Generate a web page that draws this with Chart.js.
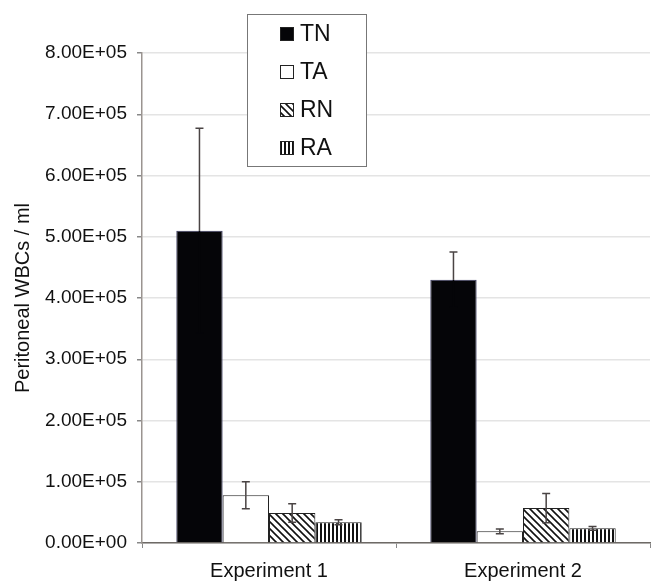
<!DOCTYPE html>
<html>
<head>
<meta charset="utf-8">
<script src="https://cdn.jsdelivr.net/npm/chart.js@4.4.0/dist/chart.umd.min.js"></script>
<style>
  html, body { margin: 0; padding: 0; background: #fff; }
  #wrap { width: 651px; height: 582px; }
</style>
</head>
<body>
<div id="wrap"><canvas id="grafik" width="651" height="582"></canvas></div>
<script>
// data
const categories = ["Experiment 1", "Experiment 2"];
const seriesNames = ["TN", "TA", "RN", "RA"];
const tnValues = [510000, 430000];
const taValues = [78000, 19000];
const rnValues = [49000, 57000];
const raValues = [34000, 24000];
const tnErrors = [167000, 45000];
const taErrors = [22000, 4000];
const rnErrors = [15000, 24000];
const raErrors = [4000, 3000];
const yTicks = [0, 100000, 200000, 300000, 400000, 500000, 600000, 700000, 800000];

const FONT = "'Liberation Sans', Arial, sans-serif";

function diagPattern() {
    const c = document.createElement("canvas");
    c.width = 7; c.height = 7;
    const g = c.getContext("2d");
    g.fillStyle = "#fff";
    g.fillRect(0, 0, 7, 7);
    g.strokeStyle = "#111";
    g.lineWidth = 1.6;
    g.beginPath();
    g.moveTo(-1, -1); g.lineTo(8, 8);
    g.moveTo(-8, -1); g.lineTo(1, 8);
    g.moveTo(6, -1); g.lineTo(15, 8);
    g.stroke();
    return g.createPattern(c, "repeat");
}

function vertPattern() {
    const c = document.createElement("canvas");
    c.width = 4; c.height = 4;
    const g = c.getContext("2d");
    g.fillStyle = "#fff";
    g.fillRect(0, 0, 4, 4);
    g.fillStyle = "#111";
    g.fillRect(0, 0, 2, 4);
    return g.createPattern(c, "repeat");
}

const fills = ["#050508", "#ffffff", diagPattern(), vertPattern()];
const values = [tnValues, taValues, rnValues, raValues];
const errors = [tnErrors, taErrors, rnErrors, raErrors];

// error bars drawn on top of the bars
const errorBars = {
    id: "errorBars",
    afterDatasetsDraw(chart) {
        const ctx = chart.ctx;
        const y = chart.scales.y;
        ctx.save();
        ctx.lineWidth = 1.5;
        chart.data.datasets.forEach((ds, i) => {
            const meta = chart.getDatasetMeta(i);
            meta.data.forEach((bar, j) => {
                const v = ds.data[j];
                const e = errors[i][j];
                const mid = y.getPixelForValue(v);
                const top = y.getPixelForValue(v + e);
                const bot = y.getPixelForValue(v - e);
                ctx.strokeStyle = "#4a4444";
                ctx.beginPath();
                ctx.moveTo(bar.x, top); ctx.lineTo(bar.x, mid);
                ctx.moveTo(bar.x - 4, top); ctx.lineTo(bar.x + 4, top);
                ctx.stroke();
                // lower half disappears into the solid black bars
                ctx.strokeStyle = i === 0 ? "#050508" : "#4a4444";
                ctx.beginPath();
                ctx.moveTo(bar.x, mid); ctx.lineTo(bar.x, bot);
                ctx.moveTo(bar.x - 4, bot); ctx.lineTo(bar.x + 4, bot);
                ctx.stroke();
            });
        });
        ctx.restore();
    }
};

// boxed legend inside the plot
const boxLegend = {
    id: "boxLegend",
    afterDraw(chart) {
        const ctx = chart.ctx;
        ctx.save();
        ctx.fillStyle = "#fff";
        ctx.fillRect(247.5, 14.5, 119, 152);
        ctx.strokeStyle = "#777";
        ctx.lineWidth = 1;
        ctx.strokeRect(247.5, 14.5, 119, 152);
        ctx.font = "23px " + FONT;
        ctx.textBaseline = "middle";
        chart.data.datasets.forEach((ds, i) => {
            const cy = 34 + i * 38;
            ctx.fillStyle = ds.backgroundColor;
            ctx.fillRect(280, cy - 7, 14, 14);
            ctx.strokeStyle = "#222";
            ctx.strokeRect(280.5, cy - 6.5, 13, 13);
            ctx.fillStyle = "#111";
            ctx.fillText(ds.label, 300, cy + 1);
        });
        ctx.restore();
    }
};

const ctx = document.getElementById("grafik").getContext("2d");
new Chart(ctx, {
    type: "bar",
    data: {
        labels: categories,
        datasets: seriesNames.map((name, i) => ({
            label: name,
            data: values[i],
            backgroundColor: fills[i],
            borderColor: i === 0 ? "#3a3a60" : "#222",
            borderWidth: 1,
            categoryPercentage: 0.73,
            barPercentage: 1.0
        }))
    },
    options: {
        responsive: false,
        animation: false,
        layout: { padding: { top: 53, right: 1, left: 0, bottom: 0 } },
        plugins: {
            legend: { display: false },
            tooltip: { enabled: false }
        },
        scales: {
            x: {
                grid: {
                    offset: true,
                    drawOnChartArea: false,
                    drawTicks: true,
                    tickLength: 5,
                    tickColor: "#888"
                },
                border: { color: "#6e6a66", width: 1.5 },
                ticks: {
                    color: "#111",
                    padding: 11,
                    font: { family: FONT, size: 20 }
                },
                afterFit: s => { s.height = 39; }
            },
            y: {
                min: 0,
                max: 800000,
                afterBuildTicks: s => { s.ticks = yTicks.map(v => ({ value: v })); },
                grid: {
                    color: "#e4e4e4",
                    tickColor: "#888",
                    tickLength: 5,
                    lineWidth: 1.5
                },
                border: { color: "#9a9490", width: 1.5 },
                ticks: {
                    color: "#111",
                    padding: 10,
                    font: { family: FONT, size: 19 }
                    ,
                    callback: v => {
                        const exp = Math.floor(Math.log10(v || 1));
                        const m = v === 0 ? 0 : v / Math.pow(10, exp);
                        const e = v === 0 ? 0 : exp;
                        return m.toFixed(2) + "E+" + String(e).padStart(2, "0");
                    }
                },
                title: {
                    display: true,
                    text: "Peritoneal WBCs / ml",
                    color: "#111",
                    font: { family: FONT, size: 20 },
                    padding: { top: 11, bottom: 0 }
                },
                afterFit: s => { s.width = 142; }
            }
        }
    },
    plugins: [errorBars, boxLegend]
});
</script>
</body>
</html>
